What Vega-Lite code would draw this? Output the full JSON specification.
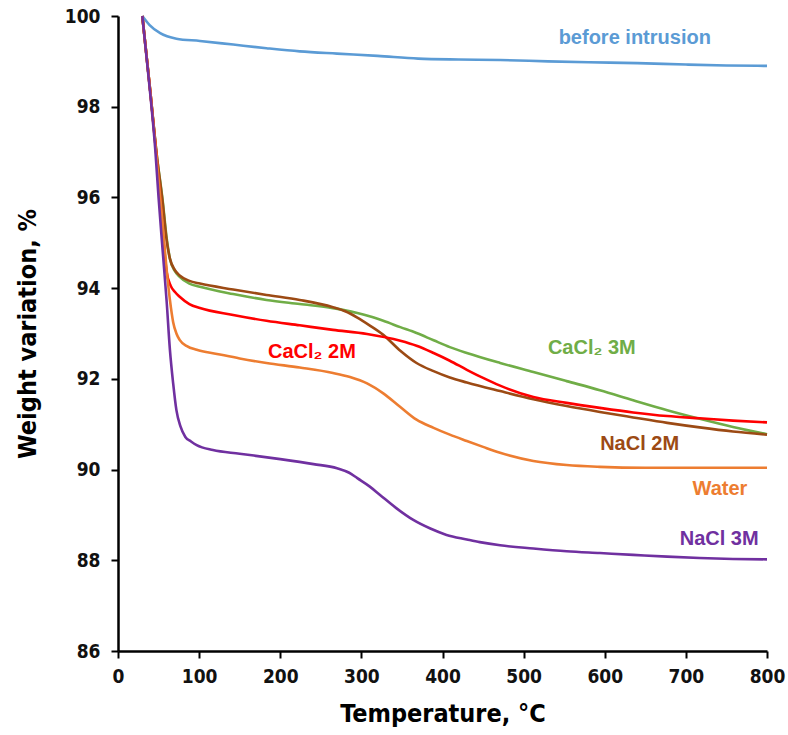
{
  "$schema": "https://vega.github.io/schema/vega-lite/v6.json",
  "width": 649,
  "height": 635,
  "autosize": {"type": "none"},
  "padding": {"left": 118, "top": 16, "right": 21, "bottom": 84},
  "background": "white",
  "config": {
    "view": {"stroke": null},
    "axis": {
      "domainColor": "black", "domainWidth": 2.5, "tickColor": "black", "tickWidth": 2, "tickSize": 7,
      "labelFont": "DejaVu Sans Condensed, Liberation Sans, sans-serif", "labelFontWeight": "bold", "labelFontSize": 19, "labelColor": "#111",
      "labelFlush": false,
      "titleFont": "DejaVu Sans Condensed, Liberation Sans, sans-serif", "titleFontWeight": "bold", "titleFontSize": 25, "titleColor": "black",
      "grid": false
    }
  },
  "datasets": {
    "curves": [
      {"s": "before", "T": 30, "W": 100}, {"s": "before", "T": 39, "W": 99.8}, {"s": "before", "T": 52, "W": 99.62}, {"s": "before", "T": 72, "W": 99.5}, {"s": "before", "T": 101, "W": 99.45}, {"s": "before", "T": 142, "W": 99.37}, {"s": "before", "T": 183, "W": 99.29}, {"s": "before", "T": 224, "W": 99.22}, {"s": "before", "T": 270, "W": 99.17}, {"s": "before", "T": 320, "W": 99.12}, {"s": "before", "T": 370, "W": 99.06}, {"s": "before", "T": 420, "W": 99.04}, {"s": "before", "T": 471, "W": 99.03}, {"s": "before", "T": 530, "W": 99.0}, {"s": "before", "T": 580, "W": 98.98}, {"s": "before", "T": 640, "W": 98.96}, {"s": "before", "T": 700, "W": 98.93}, {"s": "before", "T": 750, "W": 98.91}, {"s": "before", "T": 800, "W": 98.9},

      {"s": "CaCl2 3M", "T": 30, "W": 100}, {"s": "CaCl2 3M", "T": 40, "W": 98.3}, {"s": "CaCl2 3M", "T": 48, "W": 96.9}, {"s": "CaCl2 3M", "T": 55, "W": 95.94}, {"s": "CaCl2 3M", "T": 60, "W": 95.1}, {"s": "CaCl2 3M", "T": 64, "W": 94.65}, {"s": "CaCl2 3M", "T": 70, "W": 94.38}, {"s": "CaCl2 3M", "T": 76, "W": 94.25}, {"s": "CaCl2 3M", "T": 88, "W": 94.1}, {"s": "CaCl2 3M", "T": 101, "W": 94.03}, {"s": "CaCl2 3M", "T": 142, "W": 93.87}, {"s": "CaCl2 3M", "T": 183, "W": 93.74}, {"s": "CaCl2 3M", "T": 224, "W": 93.65}, {"s": "CaCl2 3M", "T": 265, "W": 93.56}, {"s": "CaCl2 3M", "T": 280, "W": 93.51}, {"s": "CaCl2 3M", "T": 295, "W": 93.45}, {"s": "CaCl2 3M", "T": 310, "W": 93.38}, {"s": "CaCl2 3M", "T": 327, "W": 93.28}, {"s": "CaCl2 3M", "T": 348, "W": 93.14}, {"s": "CaCl2 3M", "T": 368, "W": 93.01}, {"s": "CaCl2 3M", "T": 389, "W": 92.85}, {"s": "CaCl2 3M", "T": 409, "W": 92.7}, {"s": "CaCl2 3M", "T": 430, "W": 92.57}, {"s": "CaCl2 3M", "T": 471, "W": 92.35}, {"s": "CaCl2 3M", "T": 512, "W": 92.15}, {"s": "CaCl2 3M", "T": 553, "W": 91.95}, {"s": "CaCl2 3M", "T": 594, "W": 91.75}, {"s": "CaCl2 3M", "T": 635, "W": 91.53}, {"s": "CaCl2 3M", "T": 677, "W": 91.31}, {"s": "CaCl2 3M", "T": 717, "W": 91.12}, {"s": "CaCl2 3M", "T": 758, "W": 90.94}, {"s": "CaCl2 3M", "T": 800, "W": 90.78},

      {"s": "NaCl 2M", "T": 30, "W": 100}, {"s": "NaCl 2M", "T": 40, "W": 98.3}, {"s": "NaCl 2M", "T": 48, "W": 96.9}, {"s": "NaCl 2M", "T": 55, "W": 95.9}, {"s": "NaCl 2M", "T": 60, "W": 95.05}, {"s": "NaCl 2M", "T": 64, "W": 94.65}, {"s": "NaCl 2M", "T": 70, "W": 94.4}, {"s": "NaCl 2M", "T": 76, "W": 94.28}, {"s": "NaCl 2M", "T": 88, "W": 94.16}, {"s": "NaCl 2M", "T": 101, "W": 94.1}, {"s": "NaCl 2M", "T": 142, "W": 93.97}, {"s": "NaCl 2M", "T": 183, "W": 93.85}, {"s": "NaCl 2M", "T": 224, "W": 93.74}, {"s": "NaCl 2M", "T": 265, "W": 93.58}, {"s": "NaCl 2M", "T": 280, "W": 93.49}, {"s": "NaCl 2M", "T": 295, "W": 93.35}, {"s": "NaCl 2M", "T": 310, "W": 93.18}, {"s": "NaCl 2M", "T": 327, "W": 92.97}, {"s": "NaCl 2M", "T": 348, "W": 92.62}, {"s": "NaCl 2M", "T": 368, "W": 92.35}, {"s": "NaCl 2M", "T": 389, "W": 92.17}, {"s": "NaCl 2M", "T": 409, "W": 92.03}, {"s": "NaCl 2M", "T": 430, "W": 91.92}, {"s": "NaCl 2M", "T": 471, "W": 91.73}, {"s": "NaCl 2M", "T": 512, "W": 91.55}, {"s": "NaCl 2M", "T": 553, "W": 91.4}, {"s": "NaCl 2M", "T": 594, "W": 91.27}, {"s": "NaCl 2M", "T": 635, "W": 91.15}, {"s": "NaCl 2M", "T": 677, "W": 91.03}, {"s": "NaCl 2M", "T": 717, "W": 90.93}, {"s": "NaCl 2M", "T": 758, "W": 90.84}, {"s": "NaCl 2M", "T": 800, "W": 90.77},

      {"s": "CaCl2 2M", "T": 30, "W": 100}, {"s": "CaCl2 2M", "T": 40, "W": 98.3}, {"s": "CaCl2 2M", "T": 47, "W": 97.0}, {"s": "CaCl2 2M", "T": 55, "W": 95.3}, {"s": "CaCl2 2M", "T": 60, "W": 94.35}, {"s": "CaCl2 2M", "T": 65, "W": 94.05}, {"s": "CaCl2 2M", "T": 70, "W": 93.92}, {"s": "CaCl2 2M", "T": 76, "W": 93.81}, {"s": "CaCl2 2M", "T": 88, "W": 93.65}, {"s": "CaCl2 2M", "T": 101, "W": 93.56}, {"s": "CaCl2 2M", "T": 142, "W": 93.41}, {"s": "CaCl2 2M", "T": 183, "W": 93.28}, {"s": "CaCl2 2M", "T": 224, "W": 93.18}, {"s": "CaCl2 2M", "T": 265, "W": 93.08}, {"s": "CaCl2 2M", "T": 307, "W": 92.99}, {"s": "CaCl2 2M", "T": 348, "W": 92.84}, {"s": "CaCl2 2M", "T": 368, "W": 92.73}, {"s": "CaCl2 2M", "T": 389, "W": 92.57}, {"s": "CaCl2 2M", "T": 409, "W": 92.4}, {"s": "CaCl2 2M", "T": 430, "W": 92.2}, {"s": "CaCl2 2M", "T": 450, "W": 92.02}, {"s": "CaCl2 2M", "T": 471, "W": 91.85}, {"s": "CaCl2 2M", "T": 512, "W": 91.6}, {"s": "CaCl2 2M", "T": 553, "W": 91.47}, {"s": "CaCl2 2M", "T": 594, "W": 91.36}, {"s": "CaCl2 2M", "T": 635, "W": 91.26}, {"s": "CaCl2 2M", "T": 677, "W": 91.18}, {"s": "CaCl2 2M", "T": 717, "W": 91.13}, {"s": "CaCl2 2M", "T": 758, "W": 91.08}, {"s": "CaCl2 2M", "T": 800, "W": 91.04},

      {"s": "Water", "T": 30, "W": 100}, {"s": "Water", "T": 40, "W": 98.3}, {"s": "Water", "T": 47, "W": 97.0}, {"s": "Water", "T": 55, "W": 95.4}, {"s": "Water", "T": 60, "W": 94.4}, {"s": "Water", "T": 64, "W": 93.74}, {"s": "Water", "T": 68, "W": 93.25}, {"s": "Water", "T": 72, "W": 93.0}, {"s": "Water", "T": 76, "W": 92.86}, {"s": "Water", "T": 85, "W": 92.72}, {"s": "Water", "T": 97, "W": 92.64}, {"s": "Water", "T": 122, "W": 92.55}, {"s": "Water", "T": 150, "W": 92.45}, {"s": "Water", "T": 183, "W": 92.35}, {"s": "Water", "T": 224, "W": 92.25}, {"s": "Water", "T": 265, "W": 92.13}, {"s": "Water", "T": 286, "W": 92.04}, {"s": "Water", "T": 307, "W": 91.9}, {"s": "Water", "T": 327, "W": 91.68}, {"s": "Water", "T": 348, "W": 91.38}, {"s": "Water", "T": 368, "W": 91.1}, {"s": "Water", "T": 389, "W": 90.92}, {"s": "Water", "T": 409, "W": 90.77}, {"s": "Water", "T": 430, "W": 90.63}, {"s": "Water", "T": 450, "W": 90.5}, {"s": "Water", "T": 471, "W": 90.37}, {"s": "Water", "T": 512, "W": 90.19}, {"s": "Water", "T": 553, "W": 90.1}, {"s": "Water", "T": 594, "W": 90.06}, {"s": "Water", "T": 650, "W": 90.04}, {"s": "Water", "T": 700, "W": 90.04}, {"s": "Water", "T": 800, "W": 90.04},

      {"s": "NaCl 3M", "T": 30, "W": 100}, {"s": "NaCl 3M", "T": 38, "W": 98.6}, {"s": "NaCl 3M", "T": 46, "W": 97.04}, {"s": "NaCl 3M", "T": 50, "W": 96.0}, {"s": "NaCl 3M", "T": 55, "W": 94.84}, {"s": "NaCl 3M", "T": 60, "W": 93.7}, {"s": "NaCl 3M", "T": 64, "W": 92.64}, {"s": "NaCl 3M", "T": 68, "W": 91.9}, {"s": "NaCl 3M", "T": 72, "W": 91.31}, {"s": "NaCl 3M", "T": 77, "W": 90.95}, {"s": "NaCl 3M", "T": 83, "W": 90.72}, {"s": "NaCl 3M", "T": 90, "W": 90.62}, {"s": "NaCl 3M", "T": 97, "W": 90.54}, {"s": "NaCl 3M", "T": 117, "W": 90.43}, {"s": "NaCl 3M", "T": 150, "W": 90.35}, {"s": "NaCl 3M", "T": 200, "W": 90.23}, {"s": "NaCl 3M", "T": 241, "W": 90.12}, {"s": "NaCl 3M", "T": 270, "W": 90.03}, {"s": "NaCl 3M", "T": 285, "W": 89.93}, {"s": "NaCl 3M", "T": 295, "W": 89.81}, {"s": "NaCl 3M", "T": 310, "W": 89.63}, {"s": "NaCl 3M", "T": 323, "W": 89.44}, {"s": "NaCl 3M", "T": 343, "W": 89.15}, {"s": "NaCl 3M", "T": 364, "W": 88.89}, {"s": "NaCl 3M", "T": 385, "W": 88.7}, {"s": "NaCl 3M", "T": 405, "W": 88.56}, {"s": "NaCl 3M", "T": 430, "W": 88.46}, {"s": "NaCl 3M", "T": 446, "W": 88.4}, {"s": "NaCl 3M", "T": 471, "W": 88.33}, {"s": "NaCl 3M", "T": 512, "W": 88.26}, {"s": "NaCl 3M", "T": 553, "W": 88.2}, {"s": "NaCl 3M", "T": 594, "W": 88.16}, {"s": "NaCl 3M", "T": 635, "W": 88.12}, {"s": "NaCl 3M", "T": 677, "W": 88.08}, {"s": "NaCl 3M", "T": 717, "W": 88.05}, {"s": "NaCl 3M", "T": 758, "W": 88.03}, {"s": "NaCl 3M", "T": 800, "W": 88.02}
    ],
    "labels": [
      {"s": "before", "T": 637, "W": 99.51, "text": "before intrusion"},
      {"s": "CaCl2 2M", "T": 239, "W": 92.59, "text": "CaCl₂ 2M"},
      {"s": "CaCl2 3M", "T": 584, "W": 92.68, "text": "CaCl₂ 3M"},
      {"s": "NaCl 2M", "T": 643, "W": 90.56, "text": "NaCl 2M"},
      {"s": "Water", "T": 742, "W": 89.57, "text": "Water"},
      {"s": "NaCl 3M", "T": 741, "W": 88.47, "text": "NaCl 3M"}
    ]
  },
  "layer": [
    {
      "data": {"name": "curves"},
      "mark": {"type": "line", "strokeWidth": 2.6, "interpolate": "monotone"},
      "encoding": {
        "x": {"field": "T", "type": "quantitative", "scale": {"domain": [0, 800], "nice": false},
              "axis": {"title": "Temperature, °C", "values": [0, 100, 200, 300, 400, 500, 600, 700, 800], "labelPadding": 9, "titlePadding": 15}},
        "y": {"field": "W", "type": "quantitative", "scale": {"domain": [86, 100], "nice": false, "zero": false},
              "axis": {"title": "Weight variation, %", "values": [86, 88, 90, 92, 94, 96, 98, 100], "labelPadding": 11, "titlePadding": 24}},
        "color": {"field": "s", "type": "nominal", "legend": null,
                  "scale": {"domain": ["before", "CaCl2 3M", "NaCl 2M", "CaCl2 2M", "Water", "NaCl 3M"],
                            "range": ["#5B9BD5", "#70AD47", "#9C4A14", "#FF0000", "#ED7D31", "#7030A0"]}}
      }
    },
    {
      "data": {"name": "labels"},
      "mark": {"type": "text", "font": "Liberation Sans", "fontWeight": "bold", "fontSize": 20, "align": "center", "baseline": "middle"},
      "encoding": {
        "x": {"field": "T", "type": "quantitative"},
        "y": {"field": "W", "type": "quantitative"},
        "text": {"field": "text"},
        "color": {"field": "s", "type": "nominal", "legend": null}
      }
    }
  ]
}
